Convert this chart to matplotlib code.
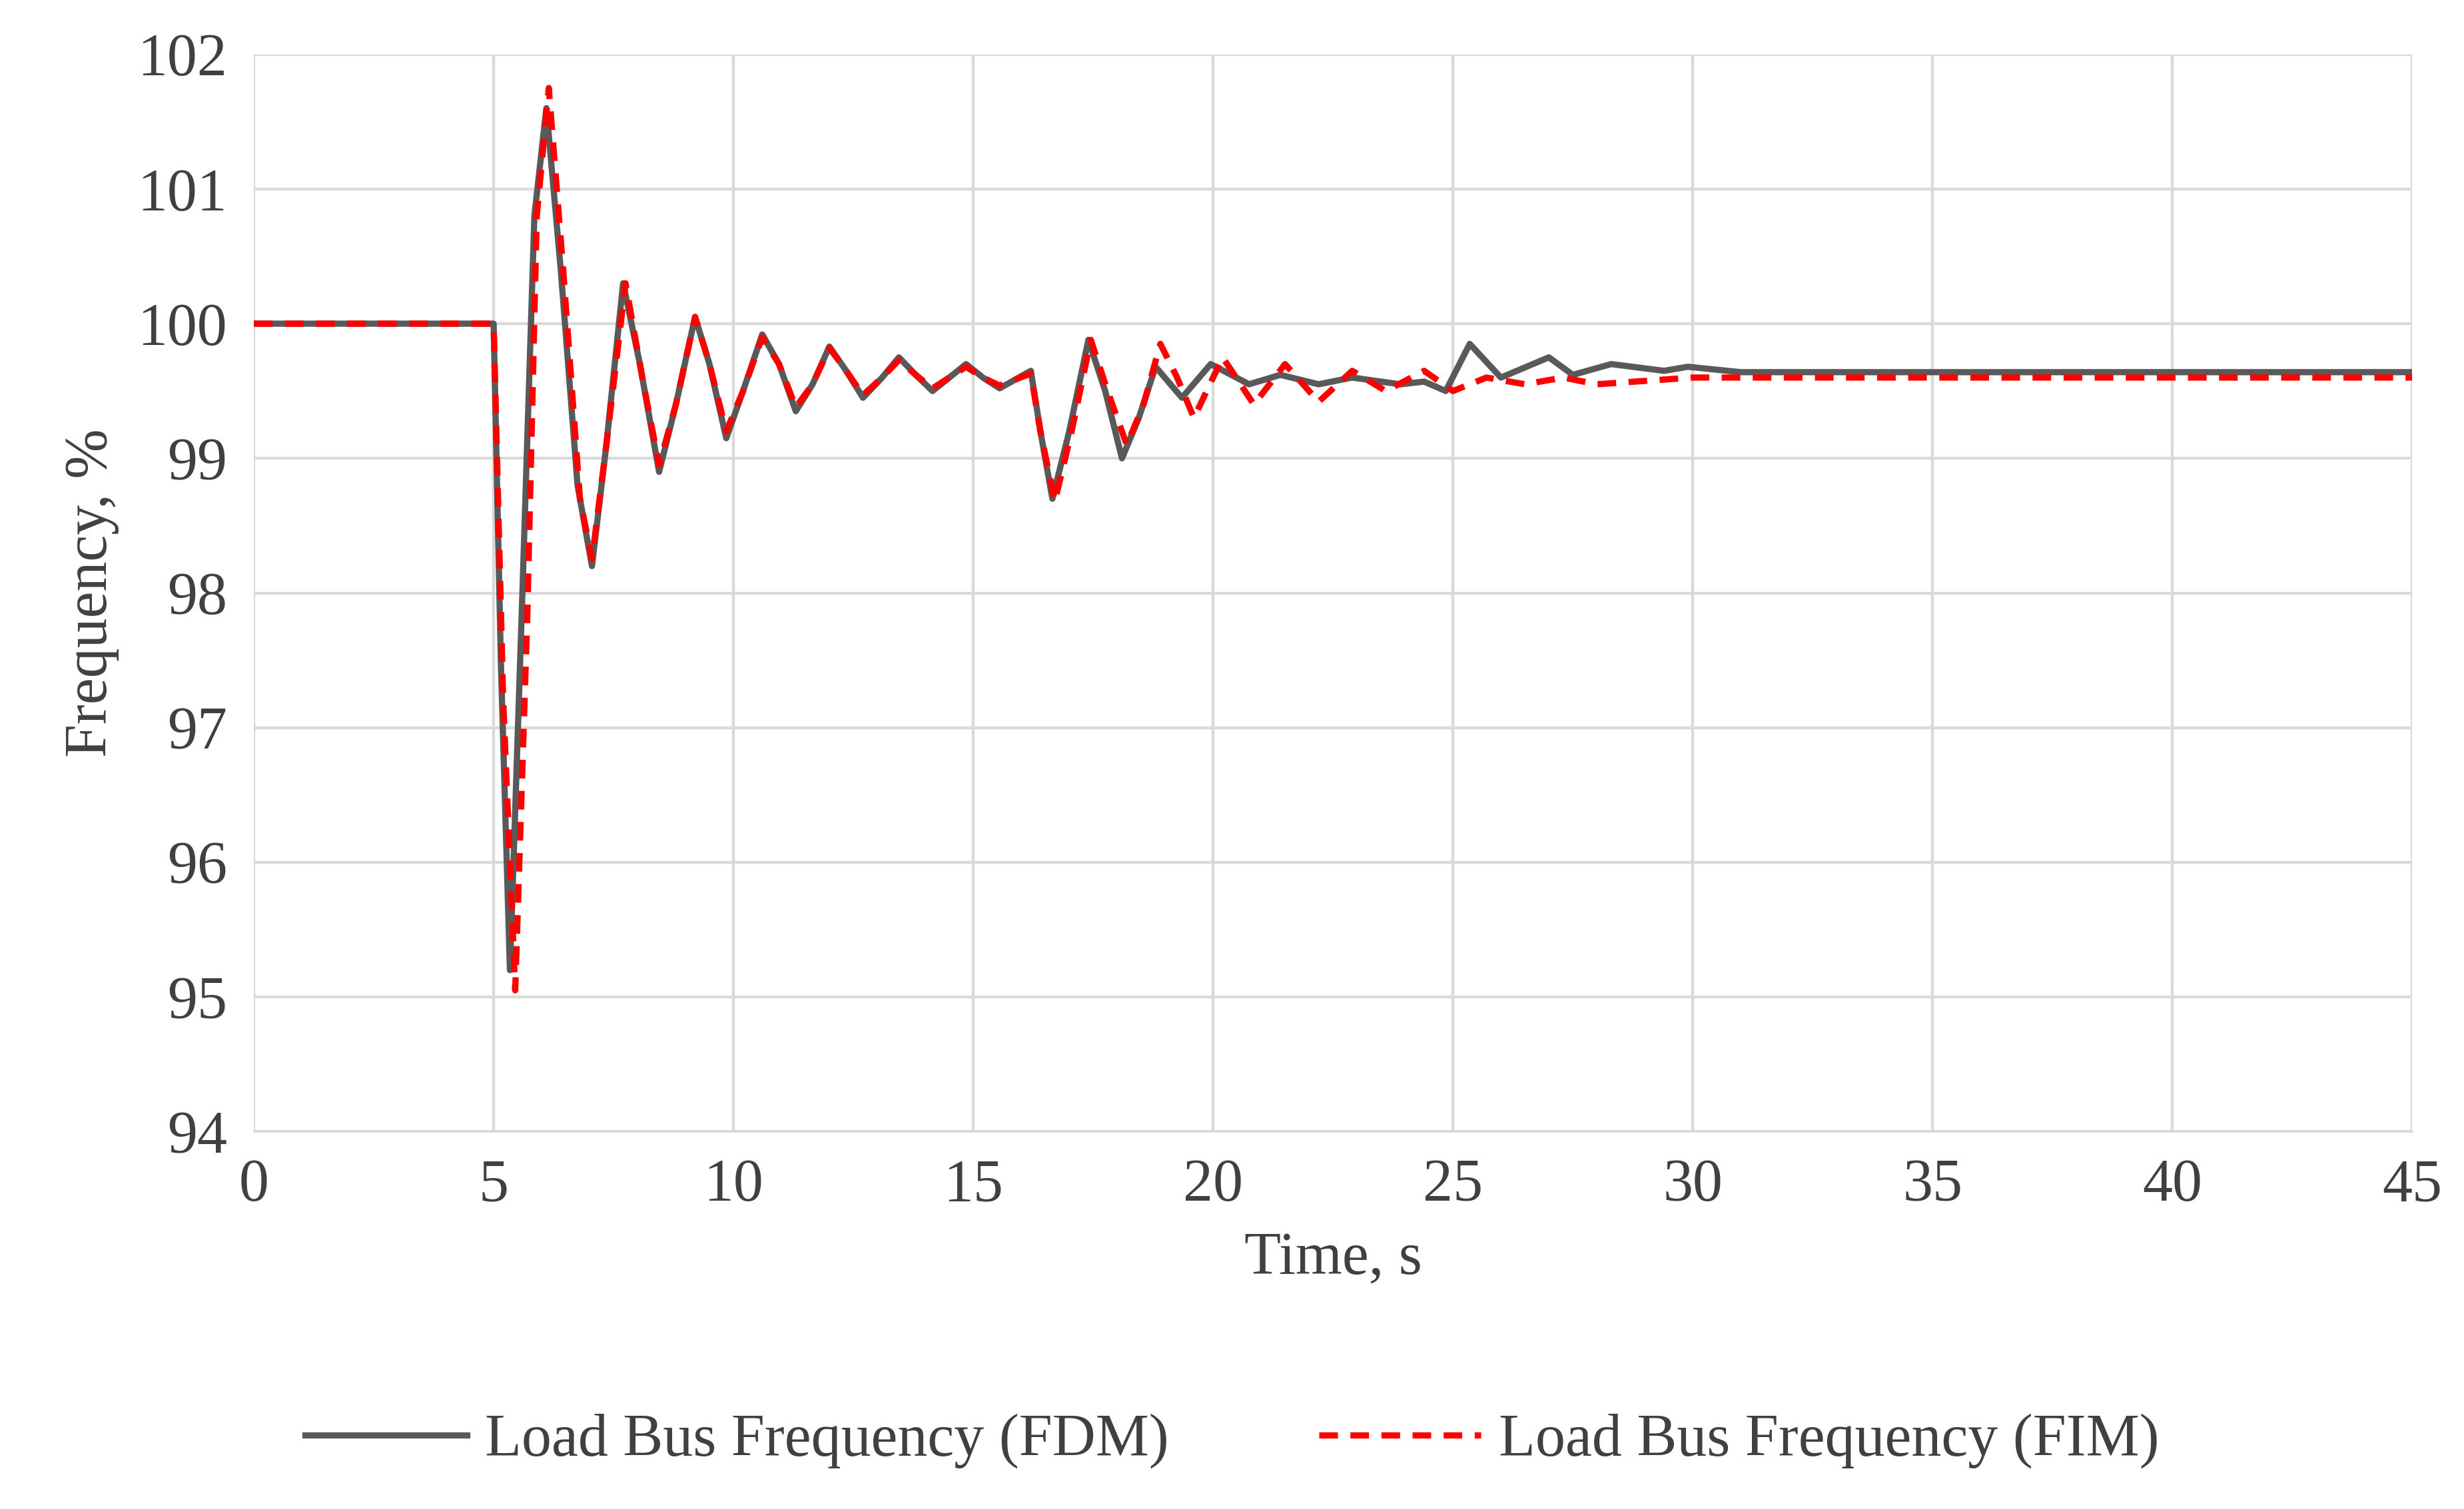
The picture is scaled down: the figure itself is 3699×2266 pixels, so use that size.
import matplotlib.pyplot as plt

# Load bus frequency, FDM model (time s, frequency %)
t_fdm = [0, 5.0, 5.15, 5.34, 5.6, 5.85, 6.1, 6.4, 6.75, 7.05, 7.35, 7.7, 8.05, 8.45, 8.8, 9.2,
         9.5, 9.85, 10.2, 10.6, 10.95, 11.3, 11.65, 12.0, 12.35, 12.7, 13.1, 13.45, 13.8, 14.15,
         14.5, 14.85, 15.2, 15.55, 16.2, 16.4, 16.65, 17.0, 17.4, 17.75, 18.1, 18.45, 18.8, 19.35,
         19.95, 20.75, 21.4, 22.2, 22.9, 23.9, 24.4, 24.85, 25.35, 26.0, 27.0, 27.5, 28.3, 29.4,
         29.9, 31.0, 45]
f_fdm = [100, 100, 97.5, 95.2, 98.0, 100.8, 101.6, 100.4, 98.8, 98.2, 99.1, 100.3, 99.7, 98.9,
         99.4, 100.05, 99.7, 99.15, 99.5, 99.92, 99.7, 99.35, 99.55, 99.83, 99.65, 99.45, 99.6,
         99.75, 99.62, 99.5, 99.6, 99.7, 99.6, 99.52, 99.65, 99.2, 98.7, 99.2, 99.88, 99.5, 99.0,
         99.3, 99.68, 99.45, 99.7, 99.55, 99.62, 99.55, 99.6, 99.55, 99.57, 99.5, 99.85, 99.6,
         99.75, 99.62, 99.7, 99.65, 99.68, 99.64, 99.64]

# Load bus frequency, FIM model
t_fim = [0, 5.0, 5.2, 5.45, 5.7, 5.9, 6.15, 6.45, 6.8, 7.05, 7.35, 7.75, 8.1, 8.45, 8.8, 9.2,
         9.5, 9.85, 10.2, 10.6, 10.95, 11.3, 11.65, 12.0, 12.35, 12.7, 13.1, 13.45, 13.8, 14.15,
         14.5, 14.85, 15.2, 15.55, 16.2, 16.4, 16.7, 17.05, 17.45, 17.8, 18.2, 18.55, 18.9, 19.25,
         19.6, 20.2, 20.85, 21.5, 22.2, 22.9, 23.6, 24.4, 25.0, 25.7, 26.5, 27.3, 28.0, 30.0, 45]
f_fim = [100, 100, 97.2, 95.05, 97.8, 100.8, 101.75, 100.4, 98.7, 98.25, 99.1, 100.3, 99.6, 98.95,
         99.4, 100.05, 99.7, 99.2, 99.5, 99.9, 99.7, 99.38, 99.55, 99.82, 99.65, 99.47, 99.6,
         99.73, 99.62, 99.52, 99.6, 99.68, 99.6, 99.54, 99.63, 99.2, 98.68, 99.2, 99.88, 99.5,
         99.1, 99.4, 99.85, 99.6, 99.3, 99.75, 99.4, 99.7, 99.42, 99.65, 99.5, 99.65, 99.5, 99.6,
         99.55, 99.6, 99.55, 99.6, 99.6]

plt.rcParams['font.family'] = ['Liberation Serif', 'DejaVu Serif']

fig = plt.figure(figsize=(15.4125, 9.4417), dpi=240)
ax = fig.add_axes([0.103, 0.25, 0.876, 0.714])

ax.plot(t_fdm, f_fdm, color='#595959', lw=2.8, label='Load Bus Frequency (FDM)', zorder=3)
ax.plot(t_fim, f_fim, color='#ff0000', lw=2.8, ls=(0, (3, 2)), label='Load Bus Frequency (FIM)', zorder=4)

ax.set_xlim(0, 45)
ax.set_ylim(94, 102)
ax.set_xticks(range(0, 46, 5))
ax.set_yticks(range(94, 103, 1))
ax.grid(True, color='#d9d9d9', lw=1.3)
for s in ax.spines.values():
    s.set_visible(False)
ax.spines['bottom'].set_visible(True)
ax.spines['bottom'].set_color('#d9d9d9')
ax.tick_params(length=0, labelsize=27, colors='#404040', pad=12)
ax.set_xlabel('Time, s', fontsize=27, color='#404040', labelpad=8)
ax.set_ylabel('Frequency, %', fontsize=27, color='#404040', labelpad=8)

fig.legend(loc='center', bbox_to_anchor=(0.5, 0.045), ncol=2, frameon=False,
           fontsize=27, handlelength=2.7, handletextpad=0.3, columnspacing=2.5,
           labelcolor='#404040')

fig.savefig('out.png')
